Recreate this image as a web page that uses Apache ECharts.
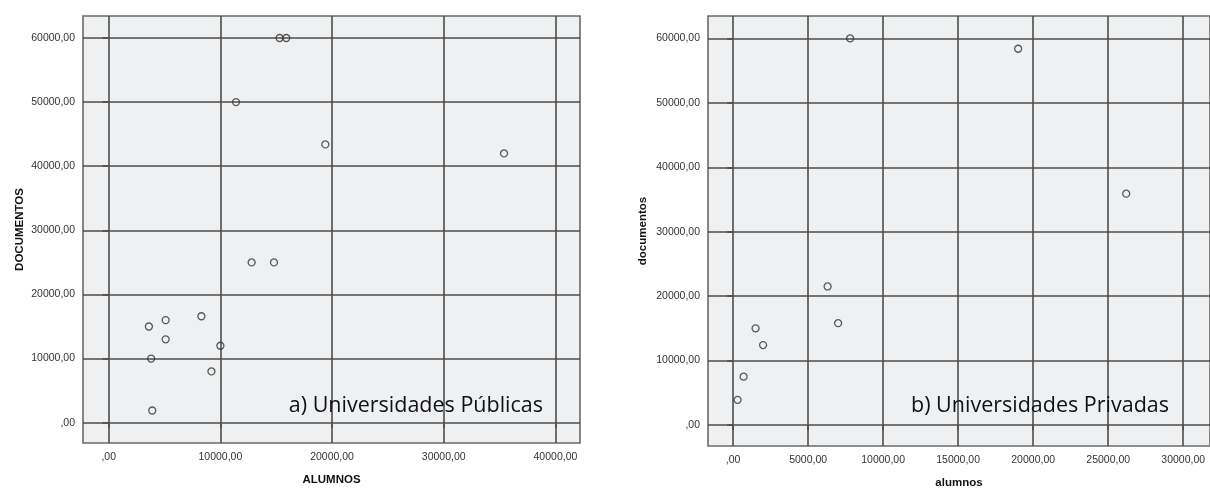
<!DOCTYPE html>
<html>
<head>
<meta charset="utf-8">
<script src="https://cdn.jsdelivr.net/npm/echarts@6/dist/echarts.min.js"></script>
<style>
html,body{margin:0;padding:0;background:#fff;}
#c{width:1210px;height:494px;}
</style>
</head>
<body>
<div id="c"></div>
<script>
// Universidades Públicas
const pubAlumnos = [15300, 15900, 11400, 19400, 35400, 12800, 14800, 3600, 5100, 5100, 8300, 10000, 3800, 9200, 3900];
const pubDocumentos = [60000, 60000, 50000, 43400, 42000, 25000, 25000, 15000, 16000, 13000, 16600, 12000, 10000, 8000, 1900];
// Universidades Privadas
const privAlumnos = [7800, 19000, 26200, 6300, 7000, 1500, 2000, 700, 300];
const privDocumentos = [60000, 58400, 35900, 21500, 15800, 15000, 12400, 7500, 3900];
// tick labels
const pubXTicks = [0, 10000, 20000, 30000, 40000];
const privXTicks = [0, 5000, 10000, 15000, 20000, 25000, 30000];
const yTicks = [0, 10000, 20000, 30000, 40000, 50000, 60000];

const fmt = v => (v === 0 ? '' : String(Math.round(v))) + ',00';

const labelStyle = { fontFamily: 'Liberation Sans', fontSize: 10.5, color: '#333' };
const nameStyle = { fontFamily: 'Liberation Sans', fontSize: 11.5, fontWeight: 'bold', color: '#111' };
const lineStyle = { color: '#4d4d4d', width: 1.6 };

function xAxis(idx, min, max, ticks, name) {
  return {
    type: 'value', gridIndex: idx, min: min, max: max,
    name: name, nameLocation: 'middle', nameGap: 31, nameTextStyle: nameStyle,
    axisLine: { show: false },
    axisTick: { show: true, length: 5, lineStyle: lineStyle, customValues: ticks },
    axisLabel: Object.assign({ margin: 9, formatter: fmt, customValues: ticks }, labelStyle),
    splitLine: { show: true, lineStyle: lineStyle }
  };
}
function yAxis(idx, min, max, ticks, name, gap) {
  return {
    type: 'value', gridIndex: idx, min: min, max: max,
    name: name, nameLocation: 'middle', nameGap: gap, nameRotate: 90, nameTextStyle: nameStyle,
    axisLine: { show: false },
    axisTick: { show: true, length: 6, lineStyle: lineStyle, customValues: ticks },
    axisLabel: Object.assign({ margin: 8, formatter: fmt, customValues: ticks }, labelStyle),
    splitLine: { show: true, lineStyle: lineStyle }
  };
}
const pts = (xs, ys) => xs.map((x, i) => [x, ys[i]]);
const marker = {
  type: 'scatter', symbol: 'circle', symbolSize: 7,
  itemStyle: { color: 'rgba(0,0,0,0)', borderColor: '#333', borderWidth: 1.3 },
  silent: true
};

const chart = echarts.init(document.getElementById('c'), null, { renderer: 'canvas' });
chart.setOption({
  backgroundColor: '#fff',
  animation: false,
  grid: [
    { left: 83, top: 16, width: 497, height: 427, show: true, backgroundColor: '#eff0f2', borderColor: '#6a6a6a', borderWidth: 1.6 },
    { left: 708, top: 16, width: 506, height: 435, show: true, backgroundColor: '#eff0f2', borderColor: '#6a6a6a', borderWidth: 1.6 }
  ],
  xAxis: [
    xAxis(0, -2300, 42200, pubXTicks, 'ALUMNOS'),
    xAxis(1, -1672, 31785, privXTicks, 'alumnos')
  ],
  yAxis: [
    yAxis(0, -3166, 63430, yTicks, 'DOCUMENTOS', 57),
    yAxis(1, -3266, 63480, yTicks, 'documentos', 59)
  ],
  series: [
    Object.assign({ xAxisIndex: 0, yAxisIndex: 0, data: pts(pubAlumnos, pubDocumentos) }, marker),
    Object.assign({ xAxisIndex: 1, yAxisIndex: 1, data: pts(privAlumnos, privDocumentos) }, marker)
  ],
  graphic: [
    { type: 'text', right: 1210 - 543, top: 395, z: 100,
      style: { text: 'a) Universidades Públicas', fontFamily: 'Open Sans', fontSize: 21.5, fill: '#101018' } },
    { type: 'text', right: 1210 - 1169, top: 395, z: 100,
      style: { text: 'b) Universidades Privadas', fontFamily: 'Open Sans', fontSize: 21.5, fill: '#101018' } }
  ]
});
</script>
</body>
</html>
